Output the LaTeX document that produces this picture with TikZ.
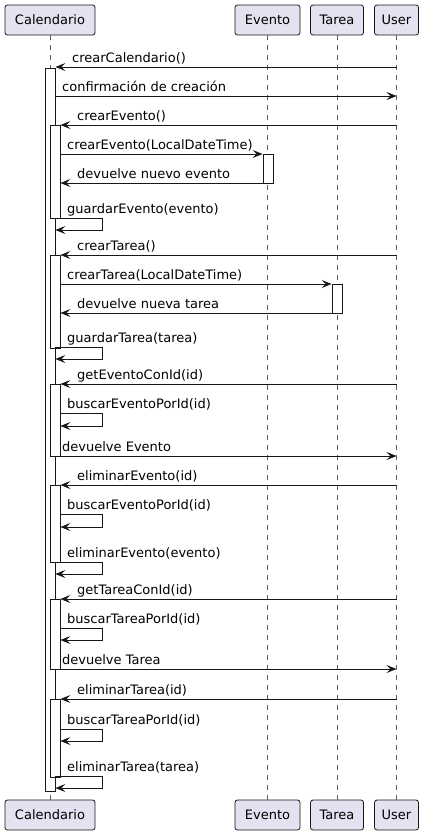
\documentclass[tikz,border=0pt]{standalone}
\usepackage{fontspec}
\setmainfont{DejaVu Sans}
\usetikzlibrary{positioning,calc,arrows.meta}
\definecolor{partfill}{HTML}{E2E2F0}
\definecolor{umlline}{HTML}{181818}
\tikzset{font=\fontsize{13}{15}\selectfont}
\tikzset{
	part/.style={draw=umlline, fill=partfill, rounded corners=2.5pt, minimum height=30pt, inner sep=0pt, line width=0.8pt},
	lifeline/.style={draw=umlline!70, dash pattern=on 5pt off 5pt, line width=0.7pt},
	actbar/.style={draw=umlline, fill=white, minimum width=10pt, inner sep=0pt, anchor=north, line width=0.8pt},
	msg/.style={draw=umlline, line width=0.8pt, -{Stealth[length=10pt,width=8pt,inset=4pt]}},
	lbl/.style={anchor=base west, inner sep=0pt},
}

\begin{document}
\begin{tikzpicture}[x=1pt, y=1pt]
	\useasboundingbox (0,0) rectangle (424,-835);

	\node[part, minimum width=90pt] (calT) at (50,-20) {Calendario};
	\node[part, minimum width=65pt] (evT) at (267.5,-20) {Evento};
	\node[part, minimum width=53pt] (taT) at (337,-20) {Tarea};
	\node[part, minimum width=44pt] (usT) at (396.5,-20) {User};
	\node[part, minimum width=90pt] (calB) at (50,-815) {Calendario};
	\node[part, minimum width=65pt] (evB) at (267.5,-815) {Evento};
	\node[part, minimum width=53pt] (taB) at (337,-815) {Tarea};
	\node[part, minimum width=44pt] (usB) at (396.5,-815) {User};

	\draw[lifeline] (calT) -- (calB);
	\draw[lifeline] (evT) -- (evB);
	\draw[lifeline] (taT) -- (taB);
	\draw[lifeline] (usT) -- (usB);

	\node[actbar, minimum height=723pt] (a0) at (50,-68) {};
	\node[actbar, minimum height=93pt] (a1) at (55,-125) {};
	\node[actbar, minimum height=29pt] (e1) at (268,-154) {};
	\node[actbar, minimum height=93pt] (a2) at (55,-255) {};
	\node[actbar, minimum height=29pt] (t1) at (337,-284) {};
	\node[actbar, minimum height=72pt] (a3) at (55,-384) {};
	\node[actbar, minimum height=77pt] (a4) at (55,-485) {};
	\node[actbar, minimum height=70pt] (a5) at (55,-599) {};
	\node[actbar, minimum height=78pt] (a6) at (55,-699) {};

	\draw[msg] (usT |- 0,-67) -- (a0.east |- 0,-67);
	\node[lbl] (m1) at (72,-62) {crearCalendario()};
	\draw[msg] (a0.east |- 0,-96) -- (usT |- 0,-96);
	\node[lbl] (m2) at (62,-91) {confirmación de creación};
	\draw[msg] (usT |- 0,-125) -- (a1.east |- 0,-125);
	\node[lbl] (m3) at (77,-120) {crearEvento()};
	\draw[msg] (a1.east |- 0,-154) -- (e1.west |- 0,-154);
	\node[lbl] (m4) at (67,-149) {crearEvento(LocalDateTime)};
	\draw[msg] (e1.west |- 0,-183) -- (a1.east |- 0,-183);
	\node[lbl] (m5) at (77,-178) {devuelve nuevo evento};
	\draw[msg] (a0.east |- 0,-218) -- ++(47,0) -- ++(0,-12) -- (a0.east |- 0,-230);
	\node[lbl] (m6) at (67,-213) {guardarEvento(evento)};

	\draw[msg] (usT |- 0,-255) -- (a2.east |- 0,-255);
	\node[lbl] (m7) at (77,-250) {crearTarea()};
	\draw[msg] (a2.east |- 0,-284) -- (t1.west |- 0,-284);
	\node[lbl] (m8) at (67,-279) {crearTarea(LocalDateTime)};
	\draw[msg] (t1.west |- 0,-313) -- (a2.east |- 0,-313);
	\node[lbl] (m9) at (77,-308) {devuelve nueva tarea};
	\draw[msg] (a0.east |- 0,-347) -- ++(47,0) -- ++(0,-12) -- (a0.east |- 0,-359);
	\node[lbl] (m10) at (67,-342) {guardarTarea(tarea)};

	\draw[msg] (usT |- 0,-384) -- (a3.east |- 0,-384);
	\node[lbl] (m11) at (77,-379) {getEventoConId(id)};
	\draw[msg] (a3.east |- 0,-413) -- ++(42,0) -- ++(0,-13) -- (a3.east |- 0,-426);
	\node[lbl] (m12) at (67,-408) {buscarEventoPorId(id)};
	\draw[msg] (a3.east |- 0,-456) -- (usT |- 0,-456);
	\node[lbl] (m13) at (62,-451) {devuelve Evento};

	\draw[msg] (usT |- 0,-485) -- (a4.east |- 0,-485);
	\node[lbl] (m14) at (77,-480) {eliminarEvento(id)};
	\draw[msg] (a4.east |- 0,-514) -- ++(42,0) -- ++(0,-13) -- (a4.east |- 0,-527);
	\node[lbl] (m15) at (67,-509) {buscarEventoPorId(id)};
	\draw[msg] (a0.east |- 0,-562) -- ++(47,0) -- ++(0,-12) -- (a0.east |- 0,-574);
	\node[lbl] (m16) at (67,-557) {eliminarEvento(evento)};

	\draw[msg] (usT |- 0,-599) -- (a5.east |- 0,-599);
	\node[lbl] (m17) at (77,-594) {getTareaConId(id)};
	\draw[msg] (a5.east |- 0,-628) -- ++(42,0) -- ++(0,-12) -- (a5.east |- 0,-640);
	\node[lbl] (m18) at (67,-623) {buscarTareaPorId(id)};
	\draw[msg] (a5.east |- 0,-669) -- (usT |- 0,-669);
	\node[lbl] (m19) at (62,-664) {devuelve Tarea};

	\draw[msg] (usT |- 0,-699) -- (a6.east |- 0,-699);
	\node[lbl] (m20) at (77,-694) {eliminarTarea(id)};
	\draw[msg] (a6.east |- 0,-729) -- ++(42,0) -- ++(0,-12) -- (a6.east |- 0,-741);
	\node[lbl] (m21) at (67,-724) {buscarTareaPorId(id)};
	\draw[msg] (a0.east |- 0,-776) -- ++(47,0) -- ++(0,-12) -- (a0.east |- 0,-788);
	\node[lbl] (m22) at (67,-771) {eliminarTarea(tarea)};
\end{tikzpicture}
\end{document}
